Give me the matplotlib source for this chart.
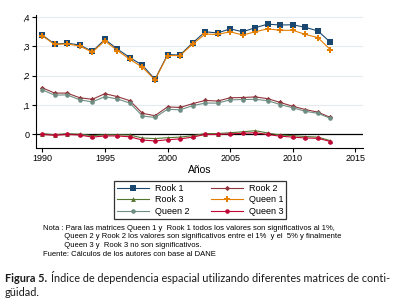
import numpy as np
import matplotlib
matplotlib.use("Agg")
import matplotlib.pyplot as plt

plt.rcParams['font.family'] = ['Liberation Sans', 'DejaVu Sans']

# data
years = np.arange(1990, 2014)
rook1 = [0.338, 0.307, 0.310, 0.304, 0.282, 0.323, 0.290, 0.261, 0.235, 0.187, 0.271, 0.270,
         0.311, 0.349, 0.345, 0.359, 0.349, 0.363, 0.375, 0.372, 0.373, 0.364, 0.352, 0.313]
queen1 = [0.335, 0.306, 0.308, 0.300, 0.280, 0.318, 0.285, 0.255, 0.228, 0.185, 0.268, 0.268,
          0.307, 0.341, 0.340, 0.349, 0.338, 0.349, 0.359, 0.354, 0.354, 0.340, 0.329, 0.288]
rook2 = [0.158, 0.140, 0.140, 0.124, 0.119, 0.138, 0.128, 0.114, 0.071, 0.063, 0.093, 0.091,
         0.104, 0.115, 0.113, 0.124, 0.125, 0.127, 0.121, 0.108, 0.095, 0.084, 0.075, 0.057]
queen2 = [0.151, 0.133, 0.134, 0.117, 0.110, 0.128, 0.120, 0.106, 0.062, 0.057, 0.085, 0.083,
          0.097, 0.106, 0.106, 0.117, 0.118, 0.119, 0.114, 0.101, 0.090, 0.078, 0.071, 0.054]
rook3 = [0.002, -0.002, 0.002, 0.000, -0.005, -0.002, -0.002, -0.003, -0.013, -0.015, -0.012, -0.010,
         -0.005, 0.002, 0.002, 0.005, 0.008, 0.012, 0.004, -0.003, -0.005, -0.008, -0.010, -0.022]
queen3 = [-0.001, -0.004, -0.001, -0.003, -0.010, -0.006, -0.006, -0.009, -0.020, -0.023, -0.019, -0.016,
          -0.010, -0.001, -0.001, 0.001, 0.003, 0.005, -0.001, -0.007, -0.010, -0.013, -0.014, -0.025]

yticks = [0, 0.1, 0.2, 0.3, 0.4]
ytick_labels = ['0', ',1', ',2', ',3', ',4']
xticks = [1990, 1995, 2000, 2005, 2010, 2015]

# Stata s2color palette
series = [
    ('Rook 1', rook1, '#1a476f', 's', 4.6),
    ('Rook 2', rook2, '#90353b', 'D', 2.7),
    ('Rook 3', rook3, '#55752f', '^', 3.5),
    ('Queen 1', queen1, '#e37e00', 'P', 3.8),
    ('Queen 2', queen2, '#6e8e84', 'o', 3.3),
    ('Queen 3', queen3, '#c10534', 'o', 3.3),
]

fig = plt.figure(figsize=(3.95, 3.07), dpi=100)
ax = fig.add_axes([0.091, 0.518, 0.828, 0.432])

ax.axhline(0, color='black', lw=0.9, zorder=1)
for y in yticks[1:]:
    ax.axhline(y, color='#e4ecef', lw=0.8, zorder=0)

handles = {}
for name, vals, col, mk, ms in series:
    h, = ax.plot(years, vals, color=col, marker=mk, ms=ms, lw=0.8,
                 markeredgewidth=0, label=name, zorder=3)
    handles[name] = h

ax.set_xlim(1989.5, 2015.6)
ax.set_ylim(-0.047, 0.405)
ax.set_xticks(xticks)
ax.set_yticks(yticks)
ax.set_yticklabels(ytick_labels)
ax.tick_params(labelsize=6.5, length=3, width=0.8, pad=1.5)
ax.spines['top'].set_visible(False)
ax.spines['right'].set_visible(False)
ax.spines['left'].set_linewidth(0.8)
ax.spines['bottom'].set_linewidth(0.8)
ax.set_xlabel('Años', fontsize=7.5, labelpad=1)

order = ['Rook 1', 'Rook 3', 'Queen 2', 'Rook 2', 'Queen 1', 'Queen 3']
leg = fig.legend([handles[n] for n in order], order, ncol=2, fontsize=6.5,
                 loc='center', bbox_to_anchor=(200 / 395, 1 - 200 / 307),
                 frameon=True, fancybox=False, edgecolor='black',
                 handlelength=3.6, columnspacing=2.4, handletextpad=0.6,
                 labelspacing=0.25, borderpad=0.35)
leg.get_frame().set_linewidth(0.9)

note = ("Nota : Para las matrices Queen 1 y  Rook 1 todos los valores son significativos al 1%,\n"
        "          Queen 2 y Rook 2 los valores son significativos entre el 1%  y el  5% y finalmente\n"
        "          Queen 3 y  Rook 3 no son significativos.\n"
        "Fuente: Cálculos de los autores con base al DANE")
fig.text(43 / 395, 1 - 225 / 307, note, fontsize=5.5, va='top', ha='left',
         linespacing=1.3)

# caption below the chart
cap_kw = dict(family='Lato', va='center', color='#1a1a1a')
t1 = fig.text(5 / 395, 1 - 278 / 307, 'Figura 5.', fontweight='bold',
              fontsize=7.8, **cap_kw)
r = fig.canvas.get_renderer()
bb = t1.get_window_extent(renderer=r)
x0 = bb.x1 + 4
t2 = fig.text(x0 / 395, 1 - 278 / 307,
              'Índice de dependencia espacial utilizando diferentes matrices de conti-',
              fontsize=7.6, **cap_kw)
w = t2.get_window_extent(renderer=r).width
size = 7.6 * (389 - x0) / w
t2.set_fontsize(size)
fig.text(5 / 395, 1 - 292 / 307, 'güidad.', fontsize=size, **cap_kw)

fig.savefig('out.png', dpi=100)
